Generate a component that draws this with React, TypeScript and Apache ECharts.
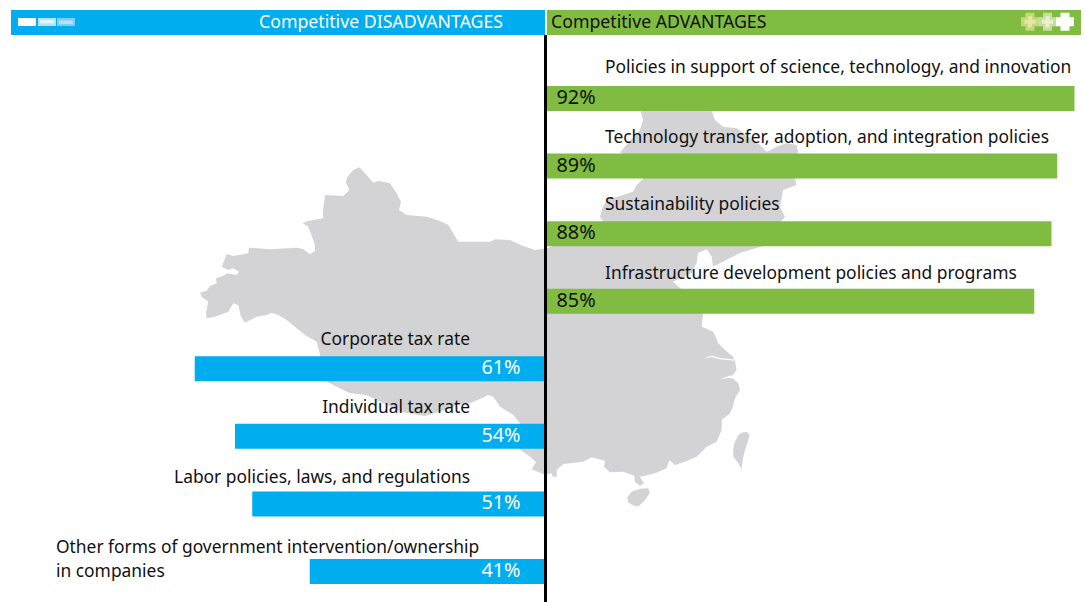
import React, { useEffect, useRef } from "react";
import * as echarts from "echarts";

const categories = [
  "Policies in support of science, technology, and innovation",
  "Technology transfer, adoption, and integration policies",
  "Sustainability policies",
  "Infrastructure development policies and programs",
  "Corporate tax rate",
  "Individual tax rate",
  "Labor policies, laws, and regulations",
  "Other forms of government intervention/ownership\nin companies",
];
const advantages = [92, 89, 88, 85, null, null, null, null];
const disadvantages = [null, null, null, null, 61, 54, 51, 41];
const headerLeft = "Competitive DISADVANTAGES";
const headerRight = "Competitive ADVANTAGES";

const mainland: number[][] = [
  [200,292.7],[206.7,290.7],[210,286],[216.7,283.3],[216,278.3],[225,275],[226.7,273.3],[236.7,275],[239,271.7],[233.3,268.3],[228.3,270],[221.7,266.7],[226.7,254],[233.3,256],[248.3,253.3],[249,247.7],[270,249.3],[296.7,247.7],[303,249],[310,254.3],[315,251],[315,246],[313.3,240],[308.3,226.7],[302.7,223.3],[306.7,221.3],[323.3,218.3],[322.7,213.3],[325,195],[343.3,196],[349.3,190],[345.7,181.7],[348,176],[353.3,170],[359.3,167.3],[365,173.3],[373.3,182.7],[378.3,180.7],[390,183.3],[396.7,193.3],[401,201.7],[399,210],[406.7,215],[426.7,216.7],[440,221],[448.3,225],[458.3,241.7],[490,241.7],[495,239.3],[510,240],[523.3,246],[535,250],[543.3,248.7],[546.7,248.3],[554,245.7],[590,225],[603,221],[600,216.7],[602,209],[606.7,200],[620,196],[633,191.7],[636.7,185],[643,179],[645,165],[620,152.7],[628,143],[640,130],[643,120],[640.7,111],[660,90],[705,90],[711.7,111],[715,120],[723,126.7],[736.7,128.3],[748,136.7],[760,145],[766.7,151.7],[776.7,146.7],[786.7,143.3],[796.7,145],[798,151.7],[797,165],[795,179],[796.7,185],[783,190],[780,206.7],[785,216.7],[778,225],[763,246],[740,253],[713,266.7],[711.7,256.7],[706.7,249.3],[698,253],[696.7,263],[691.7,273],[673,281.7],[680,288],[695,300],[703,315],[701.7,326.7],[713.3,331.7],[718.3,343.3],[725,350],[733,356.7],[734.3,359.5],[720,358],[711.7,355.6],[702.7,358.8],[711.7,357],[720,359.3],[735,360.8],[736.5,370],[733,375],[728.3,376.3],[720,379.3],[728.3,378],[733,378.5],[738.3,383.3],[740,390],[735,398.3],[733,406],[730,413.3],[721.7,420],[721.7,430],[719,436],[716.7,441.7],[706.7,446.7],[696.7,456.7],[685,461.7],[675,465],[669.3,460],[666.7,468.3],[655,473.3],[645,475.7],[640,476.7],[644,483.3],[640,486],[635,481.7],[634,475.7],[623.3,471.7],[610,472.3],[604,466.7],[605,460.7],[591.7,457.3],[583.3,461.7],[563.3,464],[556.7,470],[556.7,476.7],[552.7,476.7],[551.7,473.3],[545,475],[540,472.7],[531.7,469.3],[536,462],[530,456.7],[520,449.5],[520,423.3],[513.3,415],[500,406.7],[493.3,396.7],[488.3,395],[481.7,398.3],[470,403.3],[456.7,405],[440,411.7],[425,416],[400,411.7],[383,403],[366.7,395],[350,393.3],[326.7,381.7],[322,368],[320,355],[316.7,341.7],[305,335],[286.7,320],[278.3,315],[271.7,312.7],[266.7,315],[256.7,316.7],[245,322.7],[241,316.7],[238.3,305],[233.3,303.3],[228.3,311.7],[215,316.7],[206.7,318.3],[206,313],[208.3,301.7],[201.7,296.7],
];
const taiwan: number[][] = [[746.7,431.7],[749.5,435],[748,441],[745,450],[743,458],[741.7,469],[738.3,463.3],[733.5,457],[733,450],[734.5,443],[738.3,435],[742,432.5]];
const hainan: number[][] = [[648.3,488.3],[649.8,493],[645,500],[638.3,506.5],[632,505],[628,502],[627.3,497.3],[631.7,491.7],[640,488.8]];

const BLUE = "#00ADEF";
const GREEN = "#80BC41";
const GREY = "#D3D3D5";
const FONT = "Noto Sans";
const TEXT_SIZE = 17.4;
const HEADER_SIZE = 17.7;
const VALUE_SIZE = 19.8;

function cross(cx: number, cy: number, span: number, arm: number) {
  const s = span / 2, a = arm / 2;
  return [[cx-a,cy-s],[cx+a,cy-s],[cx+a,cy-a],[cx+s,cy-a],[cx+s,cy+a],[cx+a,cy+a],[cx+a,cy+s],[cx-a,cy+s],[cx-a,cy+a],[cx-s,cy+a],[cx-s,cy-a],[cx-a,cy-a]];
}

export default function App() {
  const ref = useRef<HTMLDivElement>(null);
  useEffect(() => {
    const chart = echarts.init(ref.current!, undefined, { renderer: "svg" });
    const labelPlaces: { x: number; y: number; align: string }[] = [
      { x: 605, y: 65.5, align: "left" },
      { x: 605, y: 135.5, align: "left" },
      { x: 605, y: 202.5, align: "left" },
      { x: 605, y: 271.5, align: "left" },
      { x: 470, y: 337.5, align: "right" },
      { x: 470, y: 405.5, align: "right" },
      { x: 470, y: 475.5, align: "right" },
      { x: 56, y: 557.5, align: "left" },
    ];
    const graphic: any[] = [
      { type: "polygon", z: 0, silent: true, shape: { points: mainland }, style: { fill: GREY } },
      { type: "polygon", z: 0, silent: true, shape: { points: taiwan }, style: { fill: GREY } },
      { type: "polygon", z: 0, silent: true, shape: { points: hainan }, style: { fill: GREY } },
      { type: "rect", z: 5, shape: { x: 11, y: 10, width: 534, height: 25 }, style: { fill: BLUE } },
      { type: "rect", z: 5, shape: { x: 547, y: 10, width: 534, height: 25 }, style: { fill: GREEN } },
      { type: "rect", z: 6, shape: { x: 18, y: 18, width: 18, height: 8 }, style: { fill: "#ffffff" } },
      { type: "rect", z: 6, shape: { x: 38, y: 18, width: 18, height: 8 }, style: { fill: "#B5E2F7" } },
      { type: "rect", z: 7, shape: { x: 40, y: 20, width: 14, height: 3.5 }, style: { fill: "#E3F5FC" } },
      { type: "rect", z: 6, shape: { x: 57, y: 18, width: 18, height: 8 }, style: { fill: "#7DCEF2" } },
      { type: "rect", z: 7, shape: { x: 59, y: 20.5, width: 14, height: 3.5 }, style: { fill: "#B5E2F7" } },
      { type: "polygon", z: 6, shape: { points: cross(1030, 21.7, 18, 9) }, style: { fill: "#C5D87C" } },
      { type: "polygon", z: 7, shape: { points: cross(1030, 21.7, 11, 4) }, style: { fill: "#E2E89E" } },
      { type: "polygon", z: 6, shape: { points: cross(1047.5, 21.7, 18, 9) }, style: { fill: "#C9DE9E" } },
      { type: "polygon", z: 7, shape: { points: cross(1047.5, 21.7, 11, 4) }, style: { fill: "#EAF1D2" } },
      { type: "polygon", z: 6, shape: { points: cross(1065, 21.7, 18, 9) }, style: { fill: "#ffffff" } },
      { type: "text", z: 8, style: { x: 503, y: 21, text: headerLeft, align: "right", verticalAlign: "middle", fill: "#ffffff", font: `${HEADER_SIZE}px "${FONT}"` } },
      { type: "text", z: 8, style: { x: 551, y: 21, text: headerRight, align: "left", verticalAlign: "middle", fill: "#111111", font: `${HEADER_SIZE}px "${FONT}"` } },
      { type: "rect", z: 9, shape: { x: 544, y: 35, width: 3, height: 567 }, style: { fill: "#000000" } },
      ...categories.map((c, i) => ({
        type: "text", z: 8,
        style: { x: labelPlaces[i].x, y: labelPlaces[i].y, text: c, align: labelPlaces[i].align, verticalAlign: "middle", fill: "#111111", font: `${TEXT_SIZE}px "${FONT}"`, lineHeight: 24 },
      })),
    ];
    chart.setOption({
      animation: false,
      graphic,
      grid: { left: 5, width: 1079.85, top: 98.5, height: 473, containLabel: false },
      xAxis: { type: "value", min: -94, max: 93.8, show: false },
      yAxis: { type: "category", inverse: true, data: categories, show: false, boundaryGap: false },
      series: [
        {
          type: "bar", name: "Competitive ADVANTAGES", data: advantages, barWidth: 25, barGap: "-100%",
          itemStyle: { color: GREEN },
          label: { show: true, position: "insideLeft", distance: 11, offset: [0, -2], formatter: (p: any) => `${p.value}%`, color: "#111111", fontFamily: FONT, fontSize: VALUE_SIZE },
        },
        {
          type: "bar", name: "Competitive DISADVANTAGES", data: disadvantages.map((v) => (v == null ? null : -v)), barWidth: 25,
          itemStyle: { color: BLUE },
          label: { show: true, position: "insideRight", distance: 25, offset: [0, -2], formatter: (p: any) => `${-p.value}%`, color: "#ffffff", fontFamily: FONT, fontSize: VALUE_SIZE },
        },
      ],
    });
    return () => chart.dispose();
  }, []);
  return <div ref={ref} style={{ position: "absolute", left: 0, top: 0, width: 1085, height: 602 }} />;
}
